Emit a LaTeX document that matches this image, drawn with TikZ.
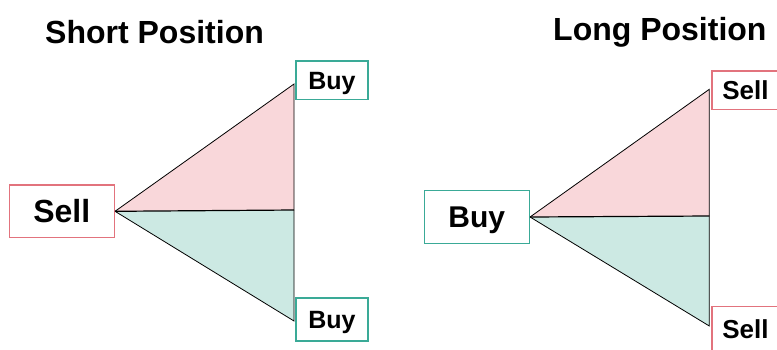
\documentclass[tikz,border=0pt]{standalone}
\usepackage{fontspec}
\setmainfont{Liberation Sans}
\definecolor{pinkfill}{HTML}{F9D7DA}
\definecolor{tealfill}{HTML}{CCE9E3}
\definecolor{boxred}{HTML}{E2737D}
\definecolor{boxteal}{HTML}{3AAA97}
\begin{document}
\begin{tikzpicture}[x=1pt,y=-1pt,
  box/.style={draw, line width=1.5pt, fill=white, inner sep=0pt, text depth=0pt},
  redbox/.style={box, draw=boxred},
  tealbox/.style={box, draw=boxteal},
  tri/.style={draw=black, line width=0.8pt, line join=miter},
  title/.style={inner sep=0pt, anchor=base west, font=\fontsize{32}{36}\selectfont\bfseries}]
\useasboundingbox (0,0) rectangle (777,349);
\clip (0,0) rectangle (777,349);
\fill[white] (0,0) rectangle (777,349);

% titles
\node[title] (tShort) at (45,43) {Short Position};
\node[title] (tLong) at (553,40) {Long Position};

% left diagram boxes
\node[redbox, minimum width=105pt, minimum height=52.7pt, text height=22.9pt, font=\fontsize{32}{36}\selectfont\bfseries] (sellL) at (61.8,211.3) {Sell};
\node[tealbox, minimum width=71.7pt, minimum height=38.3pt, text height=17.9pt, font=\fontsize{25}{30}\selectfont\bfseries] (buyT) at (331.9,80.2) {Buy};
\node[tealbox, minimum width=72pt, minimum height=43pt, text height=17.9pt, font=\fontsize{25}{30}\selectfont\bfseries] (buyB) at (332,319.5) {Buy};

% right diagram boxes
\node[tealbox, minimum width=105pt, minimum height=52.6pt, text height=21.5pt, font=\fontsize{30}{34}\selectfont\bfseries] (buyL) at (476.8,217) {Buy};
\node[redbox, anchor=west, inner xsep=10.5pt, text width=62pt, align=left, minimum height=38.3pt, text height=18.6pt, font=\fontsize{26}{30}\selectfont\bfseries] (sellT) at (711,90.2) {Sell};
\node[redbox, anchor=west, inner xsep=10.5pt, text width=62pt, align=left, minimum height=45pt, text height=18.6pt, font=\fontsize{26}{30}\selectfont\bfseries] (sellB) at (711,328.8) {Sell};

% left triangle coordinates
\coordinate (lT) at (294,84);
\coordinate (lM) at (294,210);
\coordinate (lB) at (294,321);
\coordinate (lA) at (sellL.east);
\fill[pinkfill] (lA) -- (lT) -- (lM) -- cycle;
\fill[tealfill] (lA) -- (lM) -- (lB) -- cycle;
\draw[tri] (lA) -- (lT) -- (lB) -- (lA);
\draw[tri, line width=1.2pt] (lA) -- (lM);

% right triangle coordinates
\coordinate (rT) at (709.3,89.3);
\coordinate (rM) at (709.3,216);
\coordinate (rB) at (709.3,326);
\coordinate (rA) at (buyL.east);
\fill[pinkfill] (rA) -- (rT) -- (rM) -- cycle;
\fill[tealfill] (rA) -- (rM) -- (rB) -- cycle;
\draw[tri] (rA) -- (rT) -- (rB) -- (rA);
\draw[tri, line width=1.2pt] (rA) -- (rM);
\end{tikzpicture}
\end{document}
